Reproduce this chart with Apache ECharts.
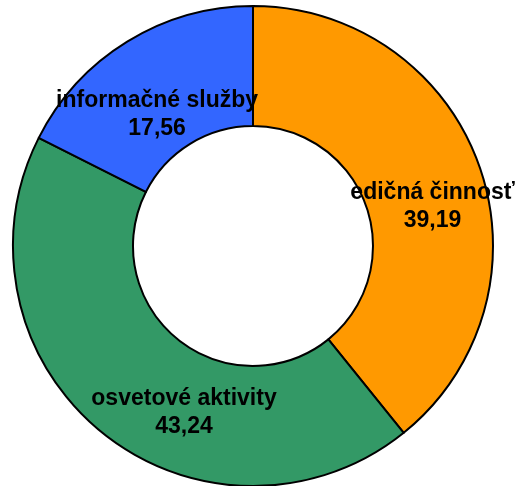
<!DOCTYPE html>
<html>
<head>
<meta charset="utf-8">
<script src="https://cdn.jsdelivr.net/npm/echarts@6/dist/echarts.min.js"></script>
<style>
  html, body { margin: 0; padding: 0; background: #fff; }
  #chart { width: 516px; height: 486px; }
</style>
</head>
<body>
<div id="chart"></div>
<script>
// kategórie a hodnoty (%)
const categories = ["edičná činnosť", "osvetové aktivity", "informačné služby"];
const values = [39.19, 43.24, 17.56];
const colors = ["#FF9900", "#339966", "#3366FF"];
// posun popisov oproti stredu výseku
const labelOffsets = [[7, 22], [46, 24], [0, 25]];

const chart = echarts.init(document.getElementById("chart"));

const data = categories.map((name, i) => ({
  name,
  value: values[i],
  itemStyle: { color: colors[i] },
  label: { offset: labelOffsets[i] },
}));

chart.setOption({
  animation: false,
  series: [
    {
      type: "pie",
      center: [253, 246],
      radius: [120, 240],
      startAngle: 90,
      clockwise: true,
      avoidLabelOverlap: false,
      itemStyle: { borderColor: "#000", borderWidth: 2 },
      label: {
        show: true,
        position: "inside",
        color: "#000",
        fontFamily: "Liberation Sans, Arial, sans-serif",
        fontWeight: "bold",
        fontSize: 23,
        lineHeight: 28,
        align: "center",
        formatter: (p) => p.name + "\n" + p.value.toFixed(2).replace(".", ","),
      },
      labelLine: { show: false },
      emphasis: { disabled: true },
      data,
    },
  ],
});
</script>
</body>
</html>
